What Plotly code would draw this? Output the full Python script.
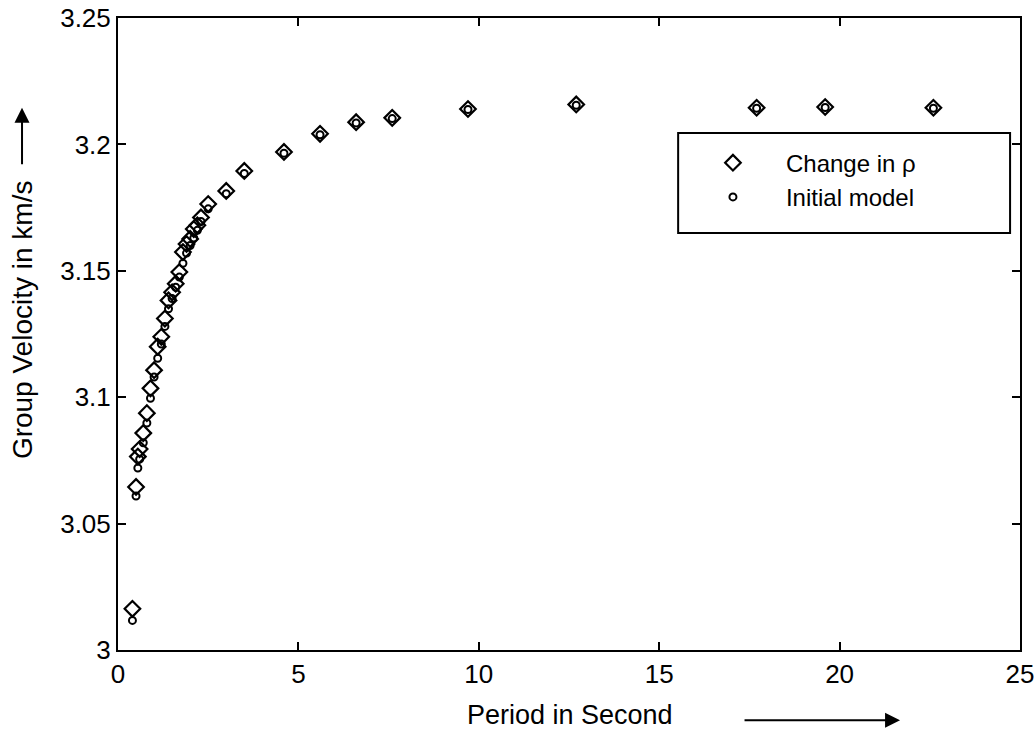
import plotly.graph_objects as go

# Period in seconds (shared by both series)
periods = [0.4, 0.5, 0.55, 0.6, 0.7, 0.8, 0.9, 1.0, 1.1, 1.2, 1.3, 1.4, 1.5, 1.6,
           1.7, 1.8, 1.9, 2.0, 2.1, 2.2, 2.3, 2.5, 3.0, 3.5, 4.6, 5.6, 6.6, 7.6,
           9.7, 12.7, 17.7, 19.6, 22.6]

# Group velocity (km/s) - change in density (diamonds)
vel_change_rho = [3.0163, 3.0645, 3.0765, 3.0795, 3.0858, 3.0937, 3.1035, 3.1107,
                  3.1200, 3.1239, 3.1311, 3.1383, 3.1415, 3.1449, 3.1495, 3.1574,
                  3.1606, 3.1626, 3.1665, 3.1680, 3.1711, 3.1764, 3.1816, 3.1895,
                  3.1970, 3.2042, 3.2088, 3.2105, 3.2140, 3.2158, 3.2145, 3.2148,
                  3.2145]

# Group velocity (km/s) - initial model (circles)
vel_initial = [3.0117, 3.0609, 3.0720, 3.0755, 3.0820, 3.0898, 3.0996, 3.1080,
               3.1154, 3.1210, 3.1280, 3.1350, 3.1390, 3.1435, 3.1475, 3.1530,
               3.1570, 3.1600, 3.1630, 3.1660, 3.1695, 3.1745, 3.1805, 3.1885,
               3.1965, 3.2038, 3.2085, 3.2102, 3.2138, 3.2155, 3.2143, 3.2146,
               3.2143]

x_ticks = [0, 5, 10, 15, 20, 25]
y_ticks = [3.0, 3.05, 3.1, 3.15, 3.2, 3.25]
y_tick_text = ["3", "3.05", "3.1", "3.15", "3.2", "3.25"]

FONT = "Liberation Sans"

fig = go.Figure()
fig.add_trace(go.Scatter(
    x=periods, y=vel_change_rho, mode="markers", name="Change in \u03c1",
    marker=dict(symbol="diamond-open", size=12, color="black",
                line=dict(color="black", width=2.2)),
))
fig.add_trace(go.Scatter(
    x=periods, y=vel_initial, mode="markers", name="Initial model",
    marker=dict(symbol="circle-open", size=7, color="black",
                line=dict(color="black", width=2)),
))

axis_common = dict(
    showline=True, linecolor="black", linewidth=2, mirror="ticks",
    ticks="inside", ticklen=8, tickwidth=2, tickcolor="black",
    showgrid=False, zeroline=False, automargin=False,
    tickfont=dict(family=FONT, size=26, color="black"),
)

fig.update_xaxes(range=[0, 25], tickvals=x_ticks, **axis_common)
fig.update_yaxes(range=[3.0, 3.25], tickvals=y_ticks, ticktext=y_tick_text,
                 **axis_common)

fig.update_layout(
    width=1036, height=733,
    margin=dict(l=118, r=16, t=18, b=83),
    plot_bgcolor="white", paper_bgcolor="white",
    font=dict(family=FONT, color="black"),
    showlegend=True,
    legend=dict(
        x=0.623, y=0.806, xanchor="left", yanchor="top",
        bgcolor="rgba(0,0,0,0)", borderwidth=0,
        font=dict(family=FONT, size=24, color="black"),
        itemwidth=96, tracegroupgap=2,
    ),
    shapes=[
        dict(type="rect", xref="paper", yref="paper",
             x0=0.621, x1=0.989, y0=0.660, y1=0.818,
             line=dict(color="black", width=2), fillcolor="white", layer="below"),
    ],
    annotations=[
        dict(text="Group Velocity in km/s", xref="paper", yref="paper",
             x=-0.1064, y=0.522, textangle=-90, showarrow=False,
             font=dict(family=FONT, size=28, color="black"),
             xanchor="center", yanchor="middle"),
        dict(text="", xref="paper", yref="paper", x=-0.1064, y=0.858,
             ax=0, ay=58, showarrow=True, arrowhead=2, arrowsize=1.5,
             arrowwidth=2, arrowcolor="black"),
        dict(text="Period in Second", xref="paper", yref="paper",
             x=0.501, y=-0.103, showarrow=False,
             font=dict(family=FONT, size=27, color="black"),
             xanchor="center", yanchor="middle"),
        dict(text="", xref="paper", yref="paper", x=0.867, y=-0.111,
             ax=-157, ay=0, showarrow=True, arrowhead=2, arrowsize=1.5,
             arrowwidth=2, arrowcolor="black"),
    ],
)

fig.write_html("out.html",
               config={"displayModeBar": False},
               post_script="document.body.style.margin='0';"
                           "document.body.style.overflow='hidden';")
